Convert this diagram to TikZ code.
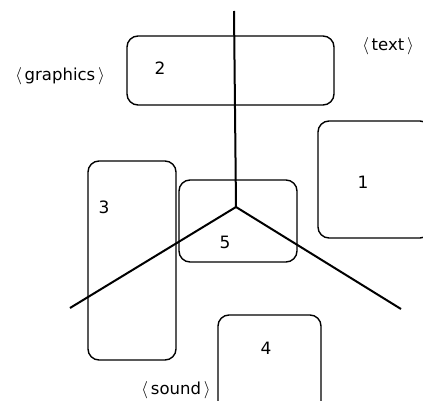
\documentclass[tikz,border=0pt]{standalone}
\usepackage{fontspec}
\setmainfont{DejaVu Sans}
\begin{document}
\begin{tikzpicture}[x=1pt,y=-1pt,
  rbox/.style={draw=black,line width=1.4pt,rounded corners=11pt},
  lbl/.style={font=\fontsize{17}{19}\selectfont,inner sep=0pt},
  tag/.style={font=\fontsize{16.5}{19}\selectfont,inner sep=0pt},
  axis/.style={draw=black,line width=2pt}]
\useasboundingbox (0,0) rectangle (423,401);
\draw[rbox] (127,36) rectangle (334,105);
\draw[rbox] (318,121) rectangle (431,238);
\draw[rbox] (88,161) rectangle (176,360);
\draw[rbox] (179,180) rectangle (297,262);
\draw[rbox] (218,315) rectangle (321,412);
\node[lbl] (n2) at (160,68) {2};
\node[lbl] (n1) at (363,182) {1};
\node[lbl] (n3) at (104,207) {3};
\node[lbl] (n5) at (225,242) {5};
\node[lbl] (n4) at (266,348) {4};
\node[tag] (t) at (388,46) {$\mathbf{\langle}$\,text\,$\mathbf{\rangle}$};
\node[tag] (g) at (60,76) {$\mathbf{\langle}$\,graphics\,$\mathbf{\rangle}$};
\node[tag] (s) at (176,390) {$\mathbf{\langle}$\,sound\,$\mathbf{\rangle}$};
\coordinate (c) at (236,207);
\coordinate (top) at (234,11);
\coordinate (l) at (70,308);
\coordinate (r) at (401,309);
\draw[axis] (c) -- (top);
\draw[axis] (c) -- (l);
\draw[axis] (c) -- (r);
\end{tikzpicture}
\end{document}
